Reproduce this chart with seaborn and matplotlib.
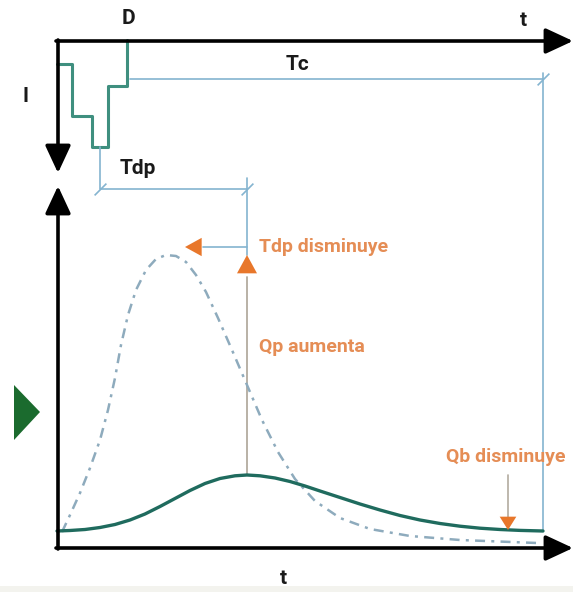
import numpy as np
import pandas as pd
import seaborn as sns
import matplotlib.pyplot as plt

# esquema en coordenadas de la imagen (x a la derecha, y hacia abajo)
# hietograma: bordes de los bloques de lluvia y profundidad de cada bloque
hyeto_edges = [57, 72, 92, 108, 127]
hyeto_depth = [64, 116, 147, 86]

# hidrograma con menor escorrentia (linea continua)
q_t = [57, 70, 85, 100, 115, 130, 145, 160, 175, 190, 205, 220, 235, 247,
       260, 275, 290, 305, 320, 340, 360, 380, 400, 420, 440, 460, 480,
       500, 520, 543]
q_v = [531, 530.5, 529.5, 527.5, 524.5, 520, 514, 506.5, 498.5, 490.5,
       483.5, 478.5, 475.8, 475, 475.8, 478, 481.5, 486, 491, 497.5, 504,
       510, 515.5, 520, 523.5, 526.2, 528.2, 529.5, 530.4, 531]

# hidrograma con mayor escorrentia (linea discontinua)
qd_t = [62, 70, 80, 90, 100, 108, 115, 121, 128, 136, 146, 156, 166, 176,
        186, 196, 206, 218, 232, 247, 262, 278, 295, 315, 340, 370, 410,
        460, 537]
qd_v = [532, 515, 493, 468, 440, 410, 378, 345, 315, 290, 270, 259, 255,
        256, 262, 275, 292, 318, 350, 385, 420, 452, 479, 501, 518, 529,
        536, 540, 543]

labels = {"D": (128, 19), "t_top": (523, 20), "I": (25, 97), "Tc": (297, 64),
          "Tdp": (138, 169), "t_bottom": (283, 578)}

teal = "#1f6b5e"
hyeto_col = "#3f8f7f"
blue = "#84b4d0"
dash_col = "#8eabbd"
orange = "#e8772b"
otext = "#e58d55"

sns.set_theme(style="white")
plt.rcParams["font.family"] = ["Roboto", "DejaVu Sans"]

fig = plt.figure(figsize=(5.73, 5.92), dpi=100)
ax = fig.add_axes([0, 0, 1, 1])
ax.set_xlim(0, 573)
ax.set_ylim(592, 0)
ax.axis("off")

# banda gris inferior
ax.axhspan(586, 592, color="#f3f3ee", lw=0)

# hietograma escalonado
hx, hy = [], []
for i, d in enumerate(hyeto_depth):
    hx += [hyeto_edges[i], hyeto_edges[i + 1]]
    hy += [d, d]
hx.append(hyeto_edges[-1])
hy.append(40)
hyeto = pd.DataFrame({"x": hx, "y": hy})
sns.lineplot(data=hyeto, x="x", y="y", sort=False, estimator=None, ax=ax,
             color=hyeto_col, lw=2.2)

# lineas de cota Tc y Tdp
tick = (2, 0, -45)
tc = pd.DataFrame({"x": [130, 543, 543], "y": [79, 79, 530]})
sns.lineplot(data=tc, x="x", y="y", sort=False, estimator=None, ax=ax,
             color=blue, lw=1.2)
ax.plot([543, 543], [73, 79], color=blue, lw=1.2)
ax.plot([543], [79], marker=tick, ms=12, color=blue, mew=1.2)
tdp = pd.DataFrame({"x": [100, 100, 247], "y": [147, 189, 189]})
sns.lineplot(data=tdp, x="x", y="y", sort=False, estimator=None, ax=ax,
             color=blue, lw=1.2)
ax.plot([100, 247], [189, 189], ls="none", marker=tick, ms=12,
        color=blue, mew=1.2)
ax.plot([247, 247], [178, 255], color=blue, lw=1.2)
ax.plot([247, 247], [277, 475], color="#b3ab9f", lw=1.3)

# flechas naranjas
ax.annotate("", xy=(185, 247), xytext=(247, 247),
            arrowprops=dict(arrowstyle="-|>,head_length=1.0,head_width=0.55",
                            color=orange, lw=0, shrinkA=0, shrinkB=0))
ax.plot([203, 247], [247, 247], color=blue, lw=1.2)
ax.annotate("", xy=(247, 255), xytext=(247, 279),
            arrowprops=dict(arrowstyle="-|>,head_length=1.1,head_width=0.6",
                            color=orange, lw=0, shrinkA=0, shrinkB=0))
ax.plot([508, 508], [475, 518], color="#b3ab9f", lw=1.2)
ax.annotate("", xy=(508, 530), xytext=(508, 516),
            arrowprops=dict(arrowstyle="-|>,head_length=0.8,head_width=0.5",
                            color=orange, lw=0, shrinkA=0, shrinkB=0))

# hidrogramas
sns.lineplot(x=qd_t, y=qd_v, sort=False, estimator=None, ax=ax,
             color=dash_col, lw=1.8, linestyle=(0, (4, 2.5, 1.2, 2.5)))
sns.lineplot(x=q_t, y=q_v, sort=False, estimator=None, ax=ax,
             color=teal, lw=2.4)

# ejes del esquema con flechas
ak = dict(arrowstyle="-|>,head_length=1.4,head_width=0.65", color="black",
          lw=2.6, shrinkA=0, shrinkB=0)
ax.annotate("", xy=(573, 41), xytext=(56, 41), arrowprops=ak)
ax.annotate("", xy=(58, 173), xytext=(58, 40), arrowprops=ak)
ax.annotate("", xy=(58, 186), xytext=(58, 549), arrowprops=ak)
ax.annotate("", xy=(573, 548), xytext=(56, 548), arrowprops=ak)

# marcador verde a la izquierda
ax.fill([14, 40, 14], [385, 412, 440], color="#1b6b2e", lw=0)

# textos
tk = dict(fontsize=15, fontweight="bold", color="#1a1a1a", ha="center", va="center")
ax.text(*labels["D"], "D", **tk)
ax.text(*labels["t_top"], "t", **tk)
ax.text(*labels["I"], "I", **tk)
ax.text(*labels["Tc"], "Tc", **tk)
ax.text(*labels["Tdp"], "Tdp", **tk)
ax.text(*labels["t_bottom"], "t", **tk)
ok = dict(fontsize=14, fontweight="bold", color=otext, va="center")
ax.text(259, 247, "Tdp disminuye", ha="left", **ok)
ax.text(259, 347, "Qp aumenta", ha="left", **ok)
ax.text(506, 457, "Qb disminuye", ha="center", **ok)

fig.savefig("out.png", dpi=100)
